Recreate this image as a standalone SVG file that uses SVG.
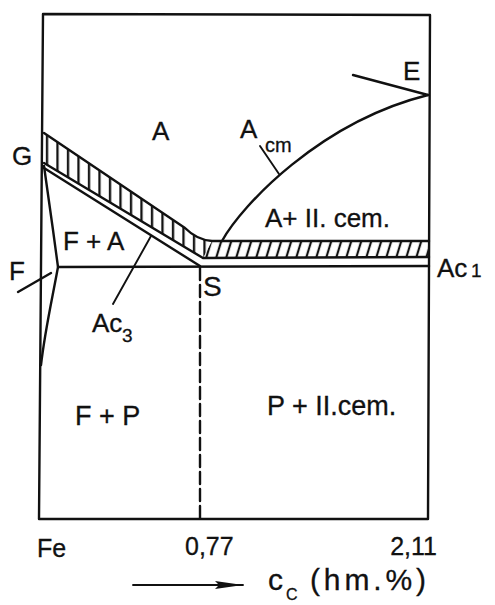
<svg xmlns="http://www.w3.org/2000/svg" width="495" height="605" viewBox="0 0 495 605">
<style>
  .ln{fill:none;stroke:#111;stroke-width:2.4;stroke-linecap:round;stroke-linejoin:round}
  .thin{fill:none;stroke:#111;stroke-width:1.9;stroke-linecap:round}
  text{font-family:"Liberation Sans",Arial,sans-serif;fill:#111;stroke:#111;stroke-width:0.3}
  .lbl{font-size:26px}
  .sub{font-size:19px}
</style>
<defs>
  <pattern id="hatchV" patternUnits="userSpaceOnUse" width="10.5" height="60">
    <line x1="5" y1="0" x2="5" y2="60" stroke="#111" stroke-width="2.3"/>
  </pattern>
  <pattern id="hatchS" patternUnits="userSpaceOnUse" width="10" height="60" patternTransform="skewX(-17)">
    <line x1="5" y1="0" x2="5" y2="60" stroke="#111" stroke-width="2.3"/>
  </pattern>
  <marker id="arr" markerWidth="30" markerHeight="10" refX="28" refY="5" orient="auto" markerUnits="userSpaceOnUse">
    <path d="M0,1 L28,5 L0,9 L4,5 Z" fill="#111"/>
  </marker>
</defs>
<rect width="495" height="605" fill="#fff"/>

<g id="frame">
  <path class="ln" d="M43,14 L430,15 L428,519 L39,519 Z"/>
</g>

<g id="bands">
  <path id="band-left" d="M44,133 L185,228 Q197,240 212,241 L203,258 L44,163 Z" fill="url(#hatchV)"/>
  <path id="band-right" d="M212,241 L429,241 L429,257 L203,258 Z" fill="url(#hatchS)"/>
</g>

<g id="connectors">
  <path id="top-line" class="ln" d="M44,133 L185,228 Q197,240 212,241 L429,241"/>
  <path id="mid-line" class="ln" d="M44,163 L203,258 L429,257"/>
  <path id="ac3-line" class="ln" d="M44,168 L200,266"/>
  <path id="ac1-line" class="ln" d="M58,267 L429,266"/>
  <path id="gp-curve" class="ln" d="M44,166 L53,230 L58,267 C52,300 45,330 41,365"/>
  <path id="acm-curve" class="ln" d="M222,241 C242,205 320,122 428,95"/>
  <path id="e-tick" class="ln" d="M353,75 L428,95"/>
  <path id="f-tick" class="ln" d="M18,292 L51,273"/>
  <path id="ac3-leader" class="thin" d="M113,304 L151,236"/>
  <path id="acm-leader" class="thin" d="M260,146 L279,174"/>
  <path id="s-dashed" class="ln" d="M200,268 L200,519" stroke-dasharray="12 5" stroke-linecap="butt"/>
  <path id="axis-arrow" class="thin" d="M133,585 L243,585" marker-end="url(#arr)"/>
</g>

<g id="labels">
  <g id="lbl-A"><text class="lbl" x="152" y="140">A</text></g>
  <g id="lbl-Acm"><text class="lbl" x="240" y="138">A</text><text x="265" y="152" font-size="20">cm</text></g>
  <g id="lbl-E"><text class="lbl" x="403" y="80">E</text></g>
  <g id="lbl-G"><text class="lbl" x="12" y="165">G</text></g>
  <g id="lbl-FA"><text class="lbl" x="63" y="250">F + A</text></g>
  <g id="lbl-Acem"><text class="lbl" x="265" y="227">A+ II. cem.</text></g>
  <g id="lbl-F"><text class="lbl" x="9" y="280">F</text></g>
  <g id="lbl-S"><text x="203" y="296" font-size="28">S</text></g>
  <g id="lbl-Ac1"><text class="lbl" x="437" y="277">Ac</text><text class="sub" x="471" y="277">1</text></g>
  <g id="lbl-Ac3"><text class="lbl" x="92" y="332">Ac</text><text class="sub" x="122" y="342">3</text></g>
  <g id="lbl-FP"><text x="75" y="425" font-size="27">F + P</text></g>
  <g id="lbl-Pcem"><text x="267" y="415" font-size="27">P + II.cem.</text></g>
  <g id="lbl-Fe"><text x="37" y="557" font-size="25">Fe</text></g>
  <g id="lbl-077"><text x="185" y="555" font-size="25">0,77</text></g>
  <g id="lbl-211"><text x="437" y="555" font-size="25" text-anchor="end">2,11</text></g>
  <g id="lbl-axis"><text x="268" y="590" font-size="30">c</text><text x="286" y="600" font-size="16">C</text><text x="310" y="590" font-size="30" textLength="116" lengthAdjust="spacing">(hm.%)</text></g>
</g>
</svg>
